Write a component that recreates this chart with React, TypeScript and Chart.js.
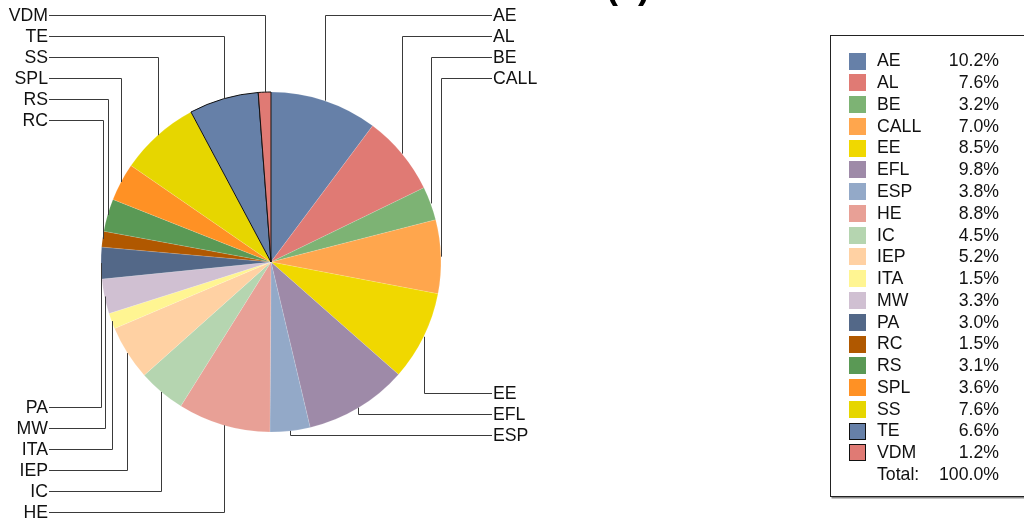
import React, { useEffect, useRef } from "react";
import { Chart, registerables } from "chart.js";

Chart.register(...registerables);

const categories = ["AE", "AL", "BE", "CALL", "EE", "EFL", "ESP", "HE", "IC", "IEP", "ITA", "MW", "PA", "RC", "RS", "SPL", "SS", "TE", "VDM"];
const shares = [10.2, 7.6, 3.2, 7.0, 8.5, 9.8, 3.8, 8.8, 4.5, 5.2, 1.5, 3.3, 3.0, 1.5, 3.1, 3.6, 7.6, 6.6, 1.2];
const sliceColors = [
  "#6680A8", "#E07A74", "#7DB374", "#FFA64D", "#F0D800", "#9E8AA8", "#93A9C8", "#E8A096", "#B5D5B0", "#FFD1A3",
  "#FFF592", "#D0C0D2", "#536888", "#B05800", "#5A9955", "#FF9124", "#E6D600", "#6680A8", "#E07A74",
];
const outlinedSlices = ["TE", "VDM"];
const titleText = "(a)";

const FONT = '"Liberation Sans", Arial, sans-serif';
const FONT_SIZE = 17.7;

const leaderPlugin = {
  id: "leaders",
  afterDatasetsDraw(chart: any) {
    const ctx = chart.ctx;
    const meta = chart.getDatasetMeta(0);
    const pts: any[] = meta.data.map((arc: any, i: number) => {
      const p = arc.getProps(["x", "y", "startAngle", "endAngle", "outerRadius"], true);
      const mid = (p.startAngle + p.endAngle) / 2;
      return {
        i,
        px: p.x + p.outerRadius * Math.cos(mid),
        py: p.y + p.outerRadius * Math.sin(mid),
        right: Math.cos(mid) >= 0,
        top: Math.sin(mid) < 0,
      };
    });
    const step = 21;
    const groups = [
      { right: true, top: true, anchor: 15 },
      { right: true, top: false, anchor: 435 },
      { right: false, top: true, anchor: 15 },
      { right: false, top: false, anchor: 512 },
    ];
    ctx.save();
    ctx.font = `${FONT_SIZE}px ${FONT}`;
    ctx.textBaseline = "middle";
    ctx.strokeStyle = "#3a3a3a";
    ctx.lineWidth = 1;
    ctx.fillStyle = "#111";
    for (const g of groups) {
      const list = pts.filter((p) => p.right === g.right && p.top === g.top).sort((a, b) => a.py - b.py);
      const n = list.length;
      list.forEach((p, k) => {
        const ly = g.top ? g.anchor + k * step : g.anchor - (n - 1 - k) * step;
        const vx = Math.round(p.px) + 0.5;
        const hy = Math.round(ly) + 0.5;
        const endX = g.right ? 492 : 49;
        ctx.beginPath();
        ctx.moveTo(vx, p.py);
        ctx.lineTo(vx, hy);
        ctx.lineTo(endX, hy);
        ctx.stroke();
        ctx.textAlign = g.right ? "left" : "right";
        ctx.fillText(categories[p.i], g.right ? 493 : 48, ly + 1);
      });
    }
    ctx.restore();
  },
  afterDraw(chart: any) {
    const ctx = chart.ctx;
    ctx.save();
    // title (mostly cut off at the top)
    ctx.font = `bold 36px ${FONT}`;
    ctx.textAlign = "center";
    ctx.textBaseline = "alphabetic";
    ctx.fillStyle = "#000";
    ctx.fillText(titleText, 628, -2);

    // legend box
    const bx = 830.5, by = 35.5, bw = 200, bh = 461;
    ctx.fillStyle = "#888";
    ctx.fillRect(bx + 1, by + bh, bw, 2);
    ctx.fillStyle = "#fff";
    ctx.fillRect(bx, by, bw, bh);
    ctx.strokeStyle = "#222";
    ctx.lineWidth = 1;
    ctx.strokeRect(bx, by, bw, bh);

    const rowH = 21.77;
    const y0 = 60.5;
    ctx.font = `${FONT_SIZE}px ${FONT}`;
    ctx.textBaseline = "middle";
    categories.forEach((c, i) => {
      const cy = y0 + i * rowH;
      ctx.fillStyle = sliceColors[i];
      ctx.fillRect(849, Math.round(cy - 8), 17, 17);
      if (outlinedSlices.includes(c)) {
        ctx.strokeStyle = "#111";
        ctx.strokeRect(849.5, Math.round(cy - 8) + 0.5, 16, 16);
      }
      ctx.fillStyle = "#111";
      ctx.textAlign = "left";
      ctx.fillText(c, 877, cy + 1);
      ctx.textAlign = "right";
      ctx.fillText(shares[i].toFixed(1) + "%", 999, cy + 1);
    });
    const total = shares.reduce((a, b) => a + b, 0);
    const ty = y0 + categories.length * rowH;
    ctx.textAlign = "left";
    ctx.fillText("Total:", 877, ty + 1);
    ctx.textAlign = "right";
    ctx.fillText(total.toFixed(1) + "%", 999, ty + 1);
    ctx.restore();
  },
};

export default function App() {
  const ref = useRef<HTMLCanvasElement>(null);
  useEffect(() => {
    if (!ref.current) return;
    const chart = new Chart(ref.current, {
      type: "pie",
      data: {
        labels: categories,
        datasets: [
          {
            data: shares,
            backgroundColor: sliceColors,
            borderColor: categories.map((c) => (outlinedSlices.includes(c) ? "#111" : "rgba(255,255,255,0.25)")),
            borderWidth: categories.map((c) => (outlinedSlices.includes(c) ? 1 : 0.5)),
          },
        ],
      },
      options: {
        responsive: false,
        animation: false,
        devicePixelRatio: 1,
        layout: { padding: { left: 100, right: 582, top: 91.5, bottom: 91.5 } },
        plugins: { legend: { display: false }, tooltip: { enabled: false }, title: { display: false } },
      },
      plugins: [leaderPlugin],
    });
    return () => chart.destroy();
  }, []);
  return (
    <div style={{ position: "fixed", left: 0, top: 0, width: 1024, height: 524, background: "#fff" }}>
      <canvas ref={ref} width={1024} height={524} style={{ display: "block" }} />
    </div>
  );
}
